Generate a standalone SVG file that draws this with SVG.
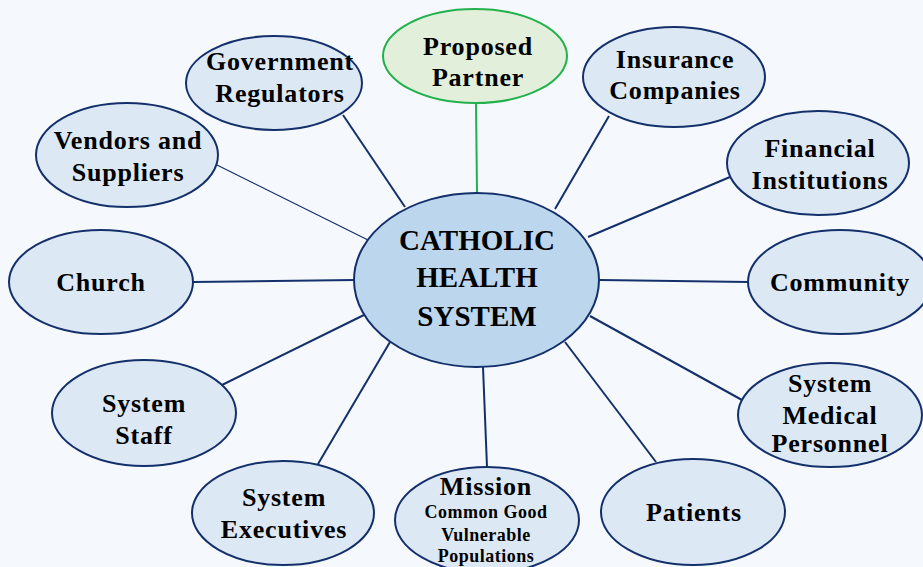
<svg xmlns="http://www.w3.org/2000/svg" width="923" height="567" viewBox="0 0 923 567">
<style>
.n{fill:#dde8f5;stroke:#14306b;stroke-width:2}
.c{fill:#bcd6ee;stroke:#14306b;stroke-width:2}
.p{fill:#e2efda;stroke:#22b14c;stroke-width:2}
text{font-family:"Liberation Serif","DejaVu Serif",serif;font-weight:bold;fill:#000;text-anchor:middle;font-size:26px;letter-spacing:0.8px}
.ct{font-size:29px;letter-spacing:0}
.s{font-size:18px;letter-spacing:0.5px}
#connectors line{stroke:#14306b;stroke-width:2}
</style>
<rect width="923" height="567" fill="#f5f9fd"/>
<g id="connectors">
<line x1="343" y1="115" x2="405" y2="207"/>
<line x1="476" y1="103" x2="477" y2="193" style="stroke:#22b14c"/>
<line x1="609" y1="116" x2="555" y2="209"/>
<line x1="217" y1="165" x2="368" y2="240" style="stroke-width:1.2"/>
<line x1="730" y1="177" x2="588" y2="237"/>
<line x1="193" y1="282" x2="354" y2="280"/>
<line x1="600" y1="280" x2="749" y2="282"/>
<line x1="222" y1="385" x2="368" y2="313"/>
<line x1="590" y1="316" x2="742" y2="400"/>
<line x1="318" y1="464" x2="390" y2="342"/>
<line x1="483" y1="367" x2="487" y2="467"/>
<line x1="565" y1="342" x2="656" y2="462"/>
</g>
<g id="center"><ellipse class="c" cx="476.5" cy="280" rx="122.5" ry="87"/>
<text class="ct" x="477" y="250">CATHOLIC</text><text class="ct" x="477" y="287">HEALTH</text><text class="ct" x="477" y="326">SYSTEM</text></g>
<g id="proposed"><ellipse class="p" cx="475" cy="56" rx="92" ry="47"/>
<text x="478" y="55">Proposed</text><text x="478" y="86">Partner</text></g>
<g id="government"><ellipse class="n" cx="274" cy="83" rx="88" ry="47"/>
<text x="280" y="70">Government</text><text x="280" y="102">Regulators</text></g>
<g id="insurance"><ellipse class="n" cx="674" cy="77" rx="91" ry="50"/>
<text x="675" y="68">Insurance</text><text x="675" y="99">Companies</text></g>
<g id="vendors"><ellipse class="n" cx="127" cy="155" rx="91" ry="52"/>
<text x="128" y="149">Vendors and</text><text x="128" y="181">Suppliers</text></g>
<g id="financial"><ellipse class="n" cx="818" cy="163" rx="91" ry="52"/>
<text x="820" y="157">Financial</text><text x="820" y="189">Institutions</text></g>
<g id="church"><ellipse class="n" cx="101" cy="282" rx="92" ry="52"/>
<text x="101" y="291">Church</text></g>
<g id="community"><ellipse class="n" cx="840" cy="282" rx="92" ry="52"/>
<text x="840" y="291">Community</text></g>
<g id="staff"><ellipse class="n" cx="144" cy="413" rx="92" ry="53"/>
<text x="144" y="412">System</text><text x="144" y="444">Staff</text></g>
<g id="medical"><ellipse class="n" cx="830" cy="415" rx="92" ry="52"/>
<text x="830" y="392">System</text><text x="830" y="424">Medical</text><text x="830" y="452">Personnel</text></g>
<g id="executives"><ellipse class="n" cx="283" cy="513" rx="91" ry="52"/>
<text x="284" y="506">System</text><text x="284" y="538">Executives</text></g>
<g id="mission"><ellipse class="n" cx="487" cy="520" rx="92" ry="53"/>
<text x="486" y="495">Mission</text><text class="s" x="486" y="518">Common Good</text><text class="s" x="486" y="541">Vulnerable</text><text class="s" x="486" y="562">Populations</text></g>
<g id="patients"><ellipse class="n" cx="693" cy="512" rx="92" ry="53"/>
<text x="694" y="521">Patients</text></g>
</svg>
